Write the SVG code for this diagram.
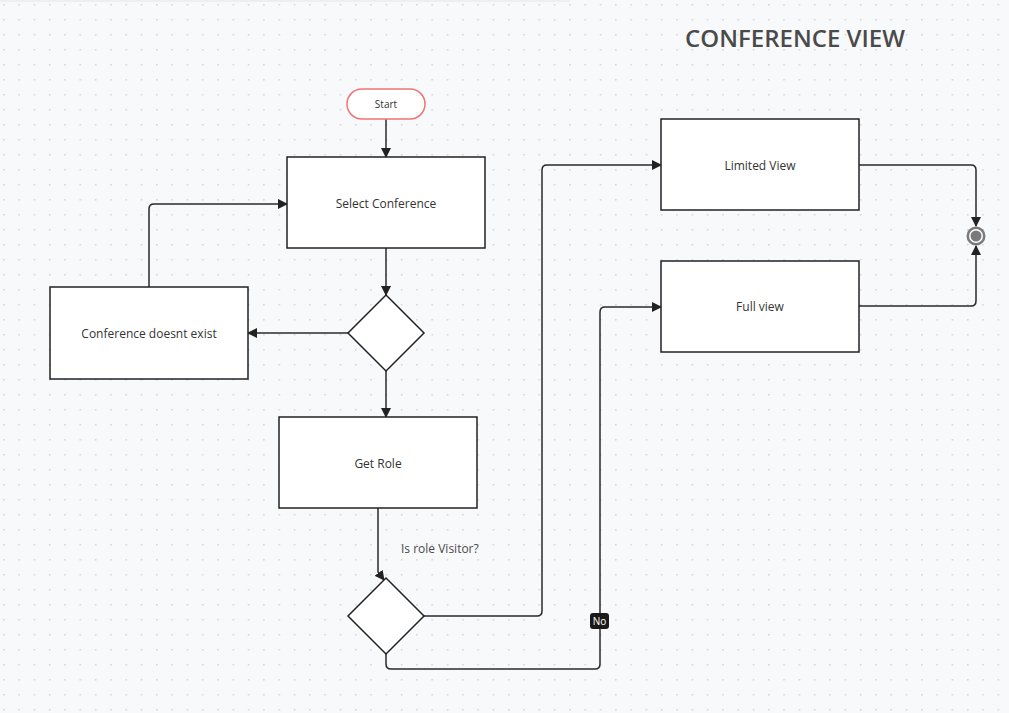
<svg xmlns="http://www.w3.org/2000/svg" width="1009" height="713" viewBox="0 0 1009 713">
<defs>
<pattern id="dots" x="3" y="4" width="15.3" height="15" patternUnits="userSpaceOnUse">
<circle cx="0.8" cy="0.8" r="0.9" fill="#d4d6dc"/>
</pattern>
<marker id="arr" viewBox="0 0 10 10" refX="9" refY="5" markerWidth="10" markerHeight="10" markerUnits="userSpaceOnUse" orient="auto">
<path d="M0,0 L10,5 L0,10 Z" fill="#222"/>
</marker>
<style>
.node rect, .node polygon { fill:#fff; stroke:#222; stroke-width:1.5; }
.lbl { font-family:"Open Sans","Noto Sans",sans-serif; font-size:12px; fill:#333; text-anchor:middle; dominant-baseline:central; }
.conn path { fill:none; stroke:#2a2a2a; stroke-width:1.5; }
</style>
</defs>
<rect width="1009" height="713" fill="#f8f9fb"/>
<rect width="1009" height="713" fill="url(#dots)"/>
<line x1="0" y1="1" x2="570" y2="1" stroke="#eceef2" stroke-width="2"/>

<text x="795" y="37" font-family="'Open Sans','Noto Sans',sans-serif" font-size="24" font-weight="600" fill="#4a4a4a" text-anchor="middle" dominant-baseline="central">CONFERENCE VIEW</text>

<g class="conn">
<path d="M386,119 V157" marker-end="url(#arr)"/>
<path d="M386,248 V295" marker-end="url(#arr)"/>
<path d="M348,333 H248" marker-end="url(#arr)"/>
<path d="M149,287 V209 Q149,204 154,204 H287" marker-end="url(#arr)"/>
<path d="M386,371 V417" marker-end="url(#arr)"/>
<path d="M378,508 V572 L384,580" marker-end="url(#arr)"/>
<path d="M424,616 H537 Q542,616 542,611 V170 Q542,165 547,165 H661" marker-end="url(#arr)"/>
<path d="M386,654 V664 Q386,669 391,669 H595 Q600,669 600,664 V312 Q600,307 605,307 H661" marker-end="url(#arr)"/>
<path d="M859,165 H971 Q976,165 976,170 V226" marker-end="url(#arr)"/>
<path d="M859,306 H971 Q976,306 976,301 V246" marker-end="url(#arr)"/>
</g>

<g id="start" class="node">
<rect x="347" y="89" width="78" height="30" rx="15" ry="15" style="stroke:#f07474"/>
<text class="lbl" x="386" y="104" style="font-size:10px">Start</text>
</g>
<g id="select-conference" class="node">
<rect x="287" y="157" width="198" height="91"/>
<text class="lbl" x="386" y="203">Select Conference</text>
</g>
<g id="decision-exists" class="node">
<polygon points="386,295 424,333 386,371 348,333"/>
</g>
<g id="conference-doesnt-exist" class="node">
<rect x="50" y="287" width="198" height="92"/>
<text class="lbl" x="149" y="333">Conference doesnt exist</text>
</g>
<g id="get-role" class="node">
<rect x="279" y="417" width="198" height="91"/>
<text class="lbl" x="378" y="463">Get Role</text>
</g>
<g id="decision-visitor" class="node">
<polygon points="386,578 424,616 386,654 348,616"/>
</g>
<g id="limited-view" class="node">
<rect x="661" y="119" width="198" height="91"/>
<text class="lbl" x="760" y="165">Limited View</text>
</g>
<g id="full-view" class="node">
<rect x="661" y="261" width="198" height="91"/>
<text class="lbl" x="760" y="306">Full view</text>
</g>
<g id="end">
<circle cx="976" cy="236" r="9.5" fill="#7a7a7a"/>
<circle cx="976" cy="236" r="7" fill="#fff"/>
<circle cx="976" cy="236" r="5.5" fill="#7a7a7a"/>
</g>

<text x="401" y="548" font-family="'Open Sans','Noto Sans',sans-serif" font-size="12" fill="#4a4a4a" dominant-baseline="central">Is role Visitor?</text>
<g id="no-label">
<rect x="590" y="613" width="19" height="16" rx="3" fill="#1a1a1a"/>
<text x="599.5" y="621" font-family="'Open Sans','Noto Sans',sans-serif" font-size="10" fill="#fff" text-anchor="middle" dominant-baseline="central">No</text>
</g>
</svg>
